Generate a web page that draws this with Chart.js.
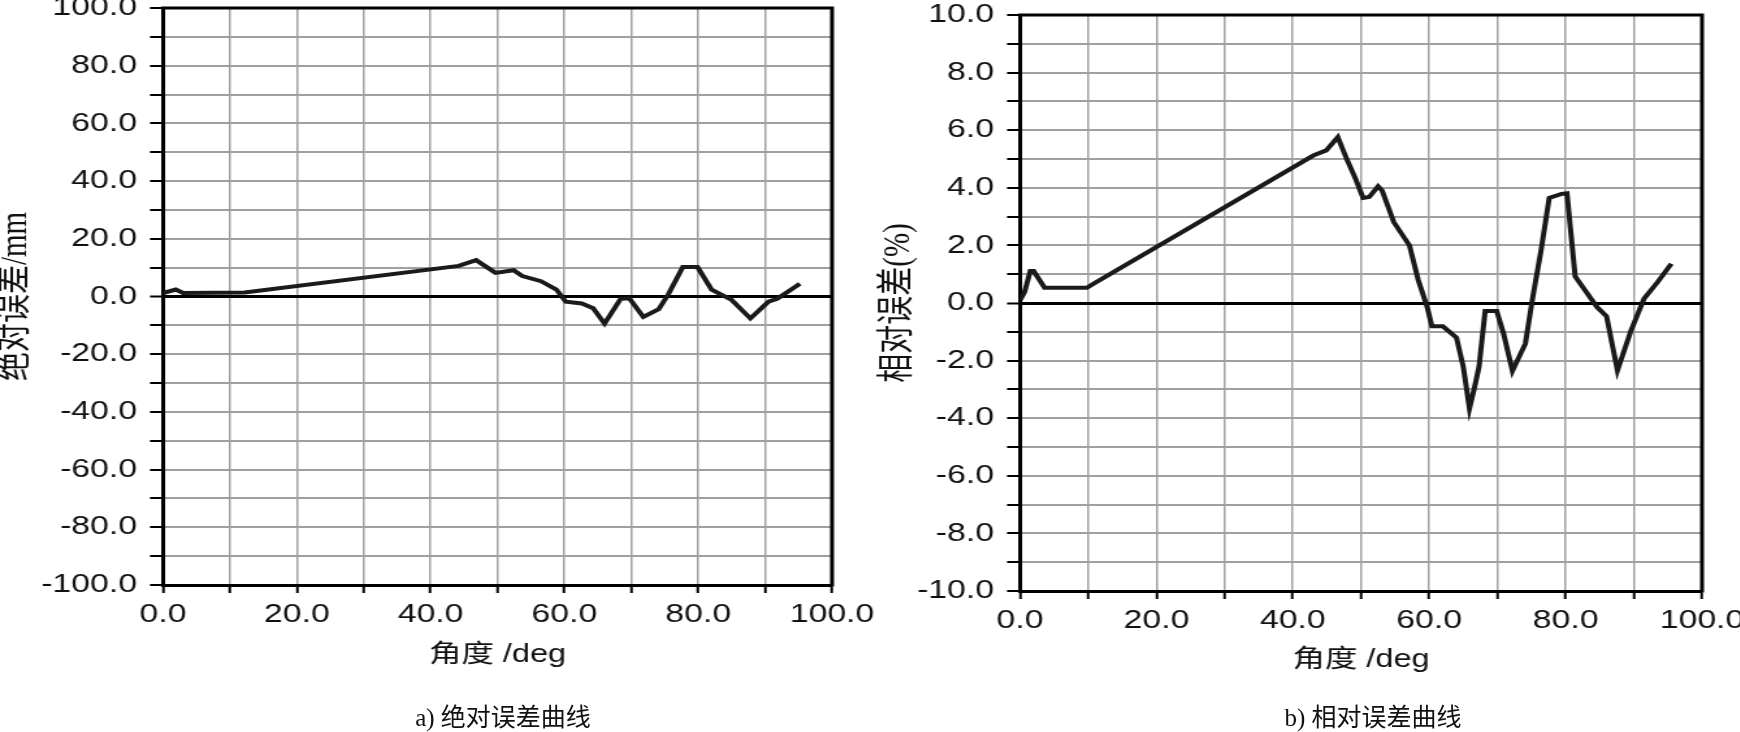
<!DOCTYPE html>
<html><head><meta charset="utf-8">
<script src="https://cdn.jsdelivr.net/npm/chart.js@4.4.1/dist/chart.umd.min.js"></script>
<style>
html,body{margin:0;padding:0;background:#fff;width:1740px;height:732px;overflow:hidden;position:relative}
.wrap{position:absolute;top:0;width:680px;height:752px;transform:scaleX(1.3);transform-origin:0 0}
.wrap canvas{position:absolute;left:0;top:-20px}
.cap{position:absolute;top:703px;transform:translateX(-50%);white-space:nowrap;font-size:25px;font-family:"Liberation Serif","Noto Sans CJK SC",serif;color:#111;line-height:30px}
</style></head><body>
<div class="wrap" style="left:0"><canvas id="cA" width="680" height="720"></canvas></div>
<div class="wrap" style="left:870px"><canvas id="cB" width="680" height="720"></canvas></div>
<div class="cap" style="left:503px">a) 绝对误差曲线</div>
<div class="cap" style="left:1373px">b) 相对误差曲线</div>
<script>
// ---- data ----
const angleA = [0, 1.9, 3, 12.2, 44.2, 46.8, 49.7, 52.4, 53.7, 56.5, 58.8, 60.2, 62.6, 64.3, 66, 68.4, 69.7, 71.8, 74.1, 75.5, 77.7, 79.9, 82, 85, 87.8, 90.5, 91.8, 95.2];
const errA   = [1.2, 2.4, 1.2, 1.4, 10.6, 12.6, 8.2, 9.1, 7.1, 5.3, 2.4, -1.8, -2.4, -4.1, -9.4, -0.8, -0.6, -7.1, -4.4, 0.6, 10.2, 10.2, 2.4, -1.2, -7.6, -1.8, -0.8, 4.4];
const angleB = [0, 0.66, 1.5, 2.0, 3.6, 9.8, 10.8, 43, 44.9, 46.6, 47.9, 49.2, 50.3, 51.2, 52.5, 53.1, 54.8, 57.1, 58.4, 59.7, 60.4, 62, 64, 65, 65.9, 66.6, 67.3, 68.2, 69.9, 70.9, 72.2, 74.1, 75.1, 76.4, 77.6, 79.4, 80.2, 81.4, 84.6, 86, 87.6, 89.6, 91.5, 93.5, 95.5];
const errB   = [0.1, 0.38, 1.11, 1.11, 0.53, 0.53, 0.67, 5.12, 5.3, 5.76, 5.0, 4.31, 3.65, 3.68, 4.05, 3.9, 2.81, 2.0, 0.79, -0.14, -0.81, -0.81, -1.2, -2.22, -3.66, -2.97, -2.22, -0.28, -0.28, -1.06, -2.36, -1.41, 0.09, 1.83, 3.65, 3.79, 3.81, 0.92, -0.14, -0.46, -2.34, -0.95, 0.15, 0.73, 1.36];
const xTickLabels  = ['0.0', '20.0', '40.0', '60.0', '80.0', '100.0'];
const yTickLabelsA = ['-100.0', '-80.0', '-60.0', '-40.0', '-20.0', '0.0', '20.0', '40.0', '60.0', '80.0', '100.0'];
const yTickLabelsB = ['-10.0', '-8.0', '-6.0', '-4.0', '-2.0', '0.0', '2.0', '4.0', '6.0', '8.0', '10.0'];
const xTitle = '角度 /deg';
const yTitleA = '绝对误差/mm';
const yTitleB = '相对误差(%)';

function labelFor(list) {
  return v => { const s = list.find(t => Math.abs(parseFloat(t) - v) < 1e-6); return s === undefined ? '' : s; };
}

const frame = {
  id: 'frame',
  afterDatasetsDraw(chart) {
    const { ctx, chartArea: { left, top, right, bottom } } = chart;
    ctx.save();
    ctx.strokeStyle = '#000';
    ctx.lineWidth = 3;
    ctx.beginPath();
    ctx.moveTo(left - 1.5, top);
    ctx.lineTo(right, top);
    ctx.lineTo(right, bottom + 1.5);
    ctx.stroke();
    ctx.restore();
  }
};

const sansFont = '"Liberation Sans", Arial, sans-serif';
const cjkSans = '"Liberation Sans", "Noto Sans CJK SC", sans-serif';
const serifFont = '"Liberation Serif", "Noto Sans CJK SC", serif';

function makeChart(id, xs, ys, o) {
  const pts = xs.map((x, i) => ({ x: x, y: ys[i] }));
  return new Chart(document.getElementById(id), {
    type: 'line',
    data: { datasets: [{ data: pts, borderColor: '#1a1a1a', borderWidth: 4, pointRadius: 0, tension: 0, fill: false, borderJoinStyle: 'miter' }] },
    options: {
      responsive: false, animation: false, devicePixelRatio: 1,
      layout: { padding: { left: 0, right: 40, top: o.top, bottom: 0 } },
      plugins: { legend: { display: false }, tooltip: { enabled: false } },
      scales: {
        x: {
          type: 'linear', min: 0, max: 100, position: 'bottom',
          afterFit(a) { a.height = o.xh; a.paddingLeft = 0; a.paddingRight = 0; },
          ticks: { stepSize: 10, autoSkip: false, maxRotation: 0, minRotation: 0, padding: 6, color: '#111',
                   font: { family: sansFont, size: 26 }, callback: labelFor(xTickLabels) },
          grid: { color: c => (c.tick && (c.tick.value === 0 || c.tick.value === 100)) ? '#000' : '#a0a0a0',
                  lineWidth: 1.5, tickLength: 8, tickColor: '#000', tickWidth: 2 },
          border: { color: '#000', width: 3 },
          title: { display: true, text: xTitle, color: '#111', font: { family: cjkSans, size: 25, lineHeight: 1.2 },
                   padding: { top: 0, bottom: o.xtp } }
        },
        y: {
          type: 'linear', min: o.ymin, max: o.ymax,
          afterFit(a) { a.width = o.yw; a.paddingTop = 0; a.paddingBottom = 0; },
          ticks: { stepSize: o.ystep, autoSkip: false, padding: 10, color: '#111',
                   font: { family: sansFont, size: 26 }, callback: labelFor(o.ylabels) },
          grid: { color: c => (c.tick && (c.tick.value === 0 || c.tick.value === o.ymin || c.tick.value === o.ymax)) ? '#000' : '#a0a0a0',
                  lineWidth: c => (c.tick && c.tick.value === 0) ? 3 : 2,
                  tickLength: 10, tickColor: '#000', tickWidth: 2 },
          border: { color: '#000', width: 3 },
          title: { display: true, text: o.ytitle, color: '#111', font: { family: serifFont, size: 29, lineHeight: 0.8 },
                   padding: { top: o.ytp, bottom: 0 } }
        }
      }
    },
    plugins: [frame]
  });
}

makeChart('cA', angleA, errA, { top: 28, xh: 115, xtp: 30, yw: 125.4, ytp: 0.7, ymin: -100, ymax: 100, ystep: 10, ylabels: yTickLabelsA, ytitle: yTitleA });
makeChart('cB', angleB, errB, { top: 35, xh: 109, xtp: 25, yw: 115.4, ytp: 10.7, ymin: -10, ymax: 10, ystep: 1, ylabels: yTickLabelsB, ytitle: yTitleB });
</script>
</body></html>
